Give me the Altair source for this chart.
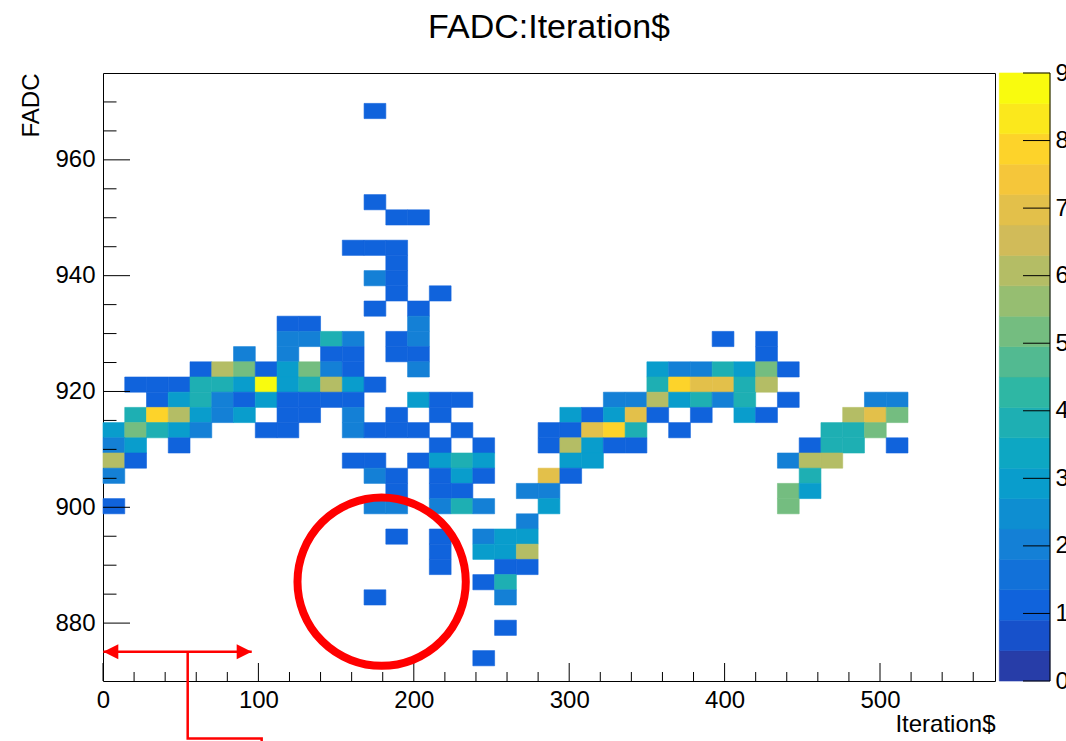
import altair as alt
import pandas as pd

TITLE = "FADC:Iteration$"
X_TITLE = "Iteration$"
Y_TITLE = "FADC"
FONT = "Liberation Sans"

X_DOMAIN = [0, 574]
Y_DOMAIN = [870, 975]
X_BIN = 14.0
Y_BIN = 2.625
Z_DOMAIN = [0, 9]
N_LEVELS = 20

# histogram cells: y-bin index, x-bin indices and counts per row
row_index = [37, 31, 30, 28, 27, 26, 25, 24, 23, 22, 21, 20, 19, 18, 17, 16,
             15, 14, 13, 12, 11, 10, 9, 8, 7, 6, 5, 3, 1]
row_cols = [
    [12], [12], [13, 14], [11, 12, 13], [13], [12, 13], [13, 15], [12, 14],
    [8, 9, 14],
    [8, 9, 10, 11, 13, 14, 28, 30],
    [6, 8, 10, 11, 13, 14, 30],
    [4, 5, 6, 7, 8, 9, 10, 11, 14, 25, 26, 27, 28, 29, 30, 31],
    [1, 2, 3, 4, 5, 6, 7, 8, 9, 10, 11, 12, 25, 26, 27, 28, 29, 30],
    [2, 3, 4, 5, 6, 7, 8, 9, 10, 11, 14, 15, 16, 23, 24, 25, 26, 27, 28, 29, 31, 35, 36],
    [1, 2, 3, 4, 5, 6, 8, 9, 11, 13, 15, 21, 22, 23, 24, 25, 27, 29, 30, 34, 35, 36],
    [0, 1, 2, 3, 4, 7, 8, 11, 12, 13, 14, 16, 20, 21, 22, 23, 24, 26, 33, 34, 35],
    [0, 1, 3, 15, 17, 20, 21, 22, 23, 24, 32, 33, 34, 36],
    [0, 1, 11, 12, 14, 15, 16, 17, 21, 22, 31, 32, 33],
    [0, 12, 13, 15, 16, 17, 20, 21, 32],
    [13, 15, 16, 19, 20, 31, 32],
    [0, 12, 13, 15, 16, 17, 20, 31],
    [19],
    [13, 15, 17, 18, 19],
    [15, 17, 18, 19],
    [15, 18, 19],
    [17, 18],
    [12, 18],
    [18],
    [17],
]
row_counts = [
    [1], [1], [1, 1], [1, 1, 1], [1], [2, 1], [1, 1], [1, 1],
    [1, 1, 2],
    [2, 2, 4, 2, 1, 2, 1, 1],
    [2, 2, 1, 1, 1, 1, 1],
    [1, 6, 5, 1, 3, 5, 2, 1, 2, 3, 2, 2, 4, 3, 5, 1],
    [1, 1, 1, 4, 4, 3, 9, 3, 4, 6, 3, 1, 4, 8, 7, 7, 4, 6],
    [1, 3, 4, 2, 1, 3, 1, 1, 1, 1, 3, 1, 1, 2, 2, 6, 3, 4, 2, 4, 1, 2, 2],
    [4, 8, 6, 3, 2, 3, 1, 1, 2, 1, 1, 3, 1, 3, 7, 1, 1, 3, 1, 6, 7, 5],
    [3, 5, 4, 3, 2, 1, 1, 2, 1, 1, 1, 1, 1, 1, 7, 8, 4, 1, 4, 4, 5],
    [2, 3, 1, 1, 1, 1, 6, 3, 1, 1, 1, 4, 4, 1],
    [6, 1, 1, 1, 1, 3, 4, 3, 3, 3, 2, 6, 6],
    [2, 2, 1, 1, 3, 1, 7, 1, 4],
    [1, 1, 1, 2, 2, 5, 3],
    [1, 2, 2, 2, 4, 2, 3, 5],
    [2],
    [1, 1, 2, 3, 3],
    [1, 3, 3, 6],
    [1, 1, 1],
    [1, 4],
    [1, 2],
    [1],
    [1],
]

# axis ticks
x_major = [0, 100, 200, 300, 400, 500]
x_minor = [v for v in range(20, 574, 20) if v % 100 != 0]
y_major = [880, 900, 920, 940, 960]
y_minor = [v for v in range(875, 975, 5) if v % 20 != 0]
z_ticks = [0, 1, 2, 3, 4, 5, 6, 7, 8, 9]

# red annotations (data units)
circle_x = [179.3]
circle_y = [887.15]
arrow_x = [0.2, 95.7]
arrow_y = [875.06, 875.06]
bracket_x = [54.5, 54.5, 102.1, 102.1]
bracket_y = [875.06, 860.07, 860.07, 858.9]

# ROOT kBird palette
stops = [0.0, 0.125, 0.25, 0.375, 0.5, 0.625, 0.75, 0.875, 1.0]
red = [0.2082, 0.0592, 0.0780, 0.0232, 0.1802, 0.5301, 0.8186, 0.9956, 0.9764]
green = [0.1664, 0.3599, 0.5041, 0.6419, 0.7178, 0.7492, 0.7328, 0.7862, 0.9832]
blue = [0.5293, 0.8684, 0.8385, 0.7914, 0.6425, 0.4662, 0.3499, 0.1968, 0.0539]


def bird(t):
    for k in range(len(stops) - 1):
        if t <= stops[k + 1]:
            f = (t - stops[k]) / (stops[k + 1] - stops[k])
            break
    else:
        k, f = len(stops) - 2, 1.0
    c = [a[k] + (a[k + 1] - a[k]) * f for a in (red, green, blue)]
    return "#" + "".join(f"{int(round(v * 255)):02x}" for v in c)


band_colors = [bird(int((i + 0.99) * 255 / N_LEVELS) / 254) for i in range(N_LEVELS)]

recs = []
for r, cols, cnts in zip(row_index, row_cols, row_counts):
    for c, n in zip(cols, cnts):
        recs.append({
            "x0": c * X_BIN, "x1": (c + 1) * X_BIN,
            "y0": Y_DOMAIN[0] + r * Y_BIN, "y1": Y_DOMAIN[0] + (r + 1) * Y_BIN,
            "count": n,
        })
cells = pd.DataFrame(recs)

step = (Z_DOMAIN[1] - Z_DOMAIN[0]) / N_LEVELS
cbar = pd.DataFrame({
    "lo": [i * step for i in range(N_LEVELS)],
    "hi": [(i + 1) * step for i in range(N_LEVELS)],
    "mid": [(i + 0.5) * step for i in range(N_LEVELS)],
})

W, H = 892, 608
FS = 24

xs = alt.Scale(domain=X_DOMAIN, nice=False, zero=False)
ys = alt.Scale(domain=Y_DOMAIN, nice=False, zero=False)
zs = alt.Scale(domain=Z_DOMAIN, nice=False, zero=False)
cs = alt.Scale(type="quantize", domain=Z_DOMAIN, range=band_colors)

x_axis = alt.Axis(values=x_major, ticks=False, tickSize=0, domain=False, grid=False,
                  labelFont=FONT, labelFontSize=FS, labelColor="black", labelPadding=7,
                  labelFlush=False, labelOverlap=False, format="d",
                  title=X_TITLE, titleFont=FONT, titleFontSize=FS, titleFontWeight="normal",
                  titleColor="black", titleX=W, titleY=50, titleAlign="right",
                  titleBaseline="alphabetic", titleAnchor="end")
y_axis = alt.Axis(values=y_major, ticks=False, tickSize=0, domain=False, grid=False,
                  labelFont=FONT, labelFontSize=FS, labelColor="black", labelPadding=8,
                  labelFlush=False, labelOverlap=False, format="d",
                  title=Y_TITLE, titleFont=FONT, titleFontSize=FS, titleFontWeight="normal",
                  titleColor="black", titleAngle=270, titleX=-65, titleY=0,
                  titleAlign="right", titleBaseline="alphabetic")


def X(field):
    return alt.X(field, scale=xs, axis=x_axis)


def Y(field):
    return alt.Y(field, scale=ys, axis=y_axis)


heat = alt.Chart(cells).mark_rect(strokeWidth=0.6).encode(
    x=X("x0:Q"), x2="x1:Q",
    y=Y("y0:Q"), y2="y1:Q",
    color=alt.Color("count:Q", scale=cs, legend=None),
    stroke=alt.Stroke("count:Q", scale=cs, legend=None),
)


def xticks(vals, length):
    return alt.Chart(pd.DataFrame({"v": vals})).mark_rule(color="black", strokeWidth=1).encode(
        x=X("v:Q"), y=alt.value(H), y2=alt.value(H - length))


def yticks(vals, length):
    return alt.Chart(pd.DataFrame({"v": vals})).mark_rule(color="black", strokeWidth=1).encode(
        y=Y("v:Q"), x=alt.value(0), x2=alt.value(length))


circle = alt.Chart(pd.DataFrame({"x": circle_x, "y": circle_y})).mark_point(
    shape="circle", filled=False, size=28330, strokeWidth=8, color="#ff0000", opacity=1, clip=False
).encode(x=X("x:Q"), y=Y("y:Q"))

lines_df = pd.DataFrame({
    "x": arrow_x + bracket_x,
    "y": arrow_y + bracket_y,
    "seg": ["a"] * len(arrow_x) + ["b"] * len(bracket_x),
    "o": list(range(len(arrow_x))) + list(range(len(bracket_x))),
})
lines = alt.Chart(lines_df).mark_line(color="#ff0000", strokeWidth=2.5, clip=False).encode(
    x=X("x:Q"), y=Y("y:Q"), detail="seg:N", order="o:Q")

head_l = alt.Chart(pd.DataFrame({"x": arrow_x[:1], "y": arrow_y[:1]})).mark_point(
    shape="M 0 0 L 1 -0.5 L 1 0.5 Z", filled=True, size=900, color="#ff0000", opacity=1, clip=False
).encode(x=X("x:Q"), y=Y("y:Q"))
head_r = alt.Chart(pd.DataFrame({"x": arrow_x[1:], "y": arrow_y[1:]})).mark_point(
    shape="M 0 0 L -1 -0.5 L -1 0.5 Z", filled=True, size=900, color="#ff0000", opacity=1, clip=False
).encode(x=X("x:Q"), y=Y("y:Q"))

title = alt.Chart(pd.DataFrame({"t": [TITLE]})).mark_text(
    font=FONT, fontSize=34, color="black", align="center", baseline="alphabetic"
).encode(text="t:N", x=alt.value(W / 2), y=alt.value(-35))

main = alt.layer(heat, xticks(x_major, 18), xticks(x_minor, 9),
                 yticks(y_major, 27), yticks(y_minor, 13.5),
                 circle, lines, head_l, head_r, title)

CB_L, CB_R = 896.3, 947
z_axis = alt.Axis(orient="right", offset=CB_R - W, values=z_ticks, ticks=False, tickSize=0,
                  domain=False, grid=False, labelFont=FONT, labelFontSize=FS,
                  labelColor="black", labelPadding=5, labelFlush=False, labelOverlap=False,
                  title=None)


def Z(field):
    return alt.Y(field, scale=zs, axis=z_axis)


cb_rect = alt.Chart(cbar).mark_rect(strokeWidth=0.6).encode(
    x=alt.value(CB_L), x2=alt.value(CB_R),
    y=Z("lo:Q"), y2="hi:Q",
    color=alt.Color("mid:Q", scale=cs, legend=None),
    stroke=alt.Stroke("mid:Q", scale=cs, legend=None),
)
cb_ticks = alt.Chart(pd.DataFrame({"v": z_ticks})).mark_rule(color="black", strokeWidth=1).encode(
    y=Z("v:Q"), x=alt.value(CB_R - 27), x2=alt.value(CB_R))
cb_line = alt.Chart(pd.DataFrame({"v": Z_DOMAIN})).mark_rule(color="black", strokeWidth=1).encode(
    x=alt.value(CB_R), y=Z("min(v):Q"), y2="max(v):Q")
cb = alt.layer(cb_rect, cb_ticks, cb_line)

chart = alt.layer(main, cb).resolve_scale(y="independent").properties(
    width=W, height=H,
    autosize=alt.AutoSizeParams(type="none"),
    padding={"left": 103, "top": 73, "right": 71, "bottom": 60},
    background="white",
).configure_view(stroke="black", strokeWidth=1)

chart.save("out.html", embed_options={"renderer": "svg", "actions": False})
